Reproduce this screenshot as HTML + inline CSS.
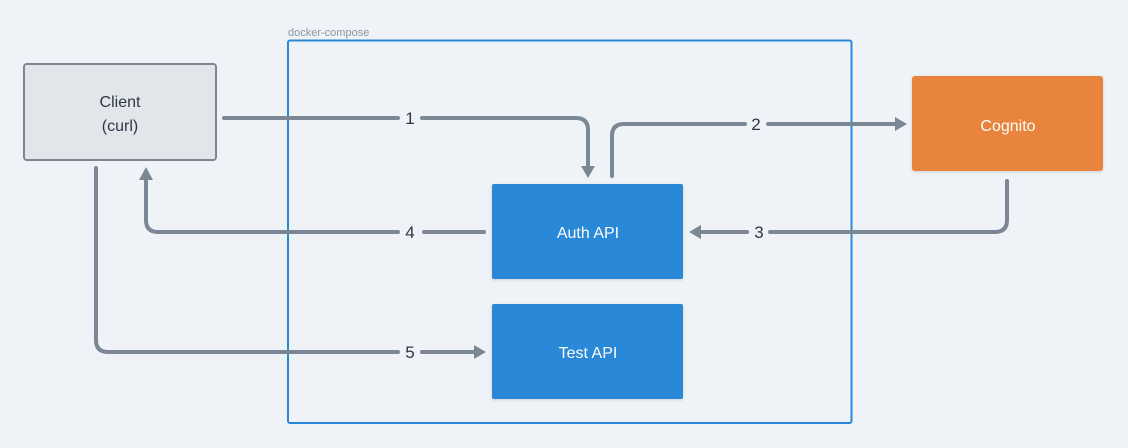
<!DOCTYPE html>
<html><head><style>
html,body{margin:0;padding:0;background:#eff3f7;}
svg{display:block;font-family:"Liberation Sans",sans-serif;}
</style></head><body>
<svg width="1128" height="448" viewBox="0 0 1128 448" xmlns="http://www.w3.org/2000/svg">
<rect width="1128" height="448" fill="#eff3f7"/>
<defs>
<filter id="sh" x="-10%" y="-10%" width="130%" height="130%"><feDropShadow dx="0" dy="1" stdDeviation="1.5" flood-color="#000" flood-opacity="0.15"/></filter>
</defs>
<text x="288" y="36" font-size="11" fill="#8a96a3">docker-compose</text>
<rect x="288" y="40.5" width="563.5" height="382.5" rx="2" fill="none" stroke="#2b88d8" stroke-width="2"/>
<rect x="24" y="64" width="192" height="96" rx="3" fill="#e2e6ea" stroke="#7b8794" stroke-width="2"/>
<text x="120" y="107" font-size="16" fill="#2d3748" text-anchor="middle">Client</text>
<text x="120" y="131" font-size="16" fill="#2d3748" text-anchor="middle">(curl)</text>
<rect x="492" y="184" width="191" height="95" rx="2" fill="#2b88d8" filter="url(#sh)"/>
<text x="588" y="238" font-size="16" fill="#fff" text-anchor="middle">Auth API</text>
<rect x="492" y="304" width="191" height="95" rx="2" fill="#2b88d8" filter="url(#sh)"/>
<text x="588" y="358" font-size="16" fill="#fff" text-anchor="middle">Test API</text>
<rect x="912" y="76" width="191" height="95" rx="3" fill="#e8843a" filter="url(#sh)"/>
<text x="1008" y="131" font-size="16" fill="#fff" text-anchor="middle">Cognito</text>
<g fill="none" stroke="#7b8794" stroke-width="4" stroke-linecap="round">
<path d="M224 118 H398 M422 118 H576 Q588 118 588 130 V166"/>
<path d="M612 176 V136 Q612 124 624 124 H745 M768 124 H895"/>
<path d="M1007 181 V220 Q1007 232 995 232 H770 M747 232 H702"/>
<path d="M484 232 H424 M398 232 H158 Q146 232 146 220 V180"/>
<path d="M96 168 V340 Q96 352 108 352 H398 M422 352 H474"/>
</g>
<g fill="#7b8794">
<polygon points="581,166 595,166 588,178"/>
<polygon points="895,117 895,131 907,124"/>
<polygon points="701,225 701,239 689,232"/>
<polygon points="139,180 153,180 146,167"/>
<polygon points="474,345 474,359 486,352"/>
</g>
<g font-size="17" fill="#2d3748" text-anchor="middle">
<text x="410" y="124">1</text>
<text x="756" y="130">2</text>
<text x="759" y="238">3</text>
<text x="410" y="238">4</text>
<text x="410" y="358">5</text>
</g>
</svg>
</body></html>
